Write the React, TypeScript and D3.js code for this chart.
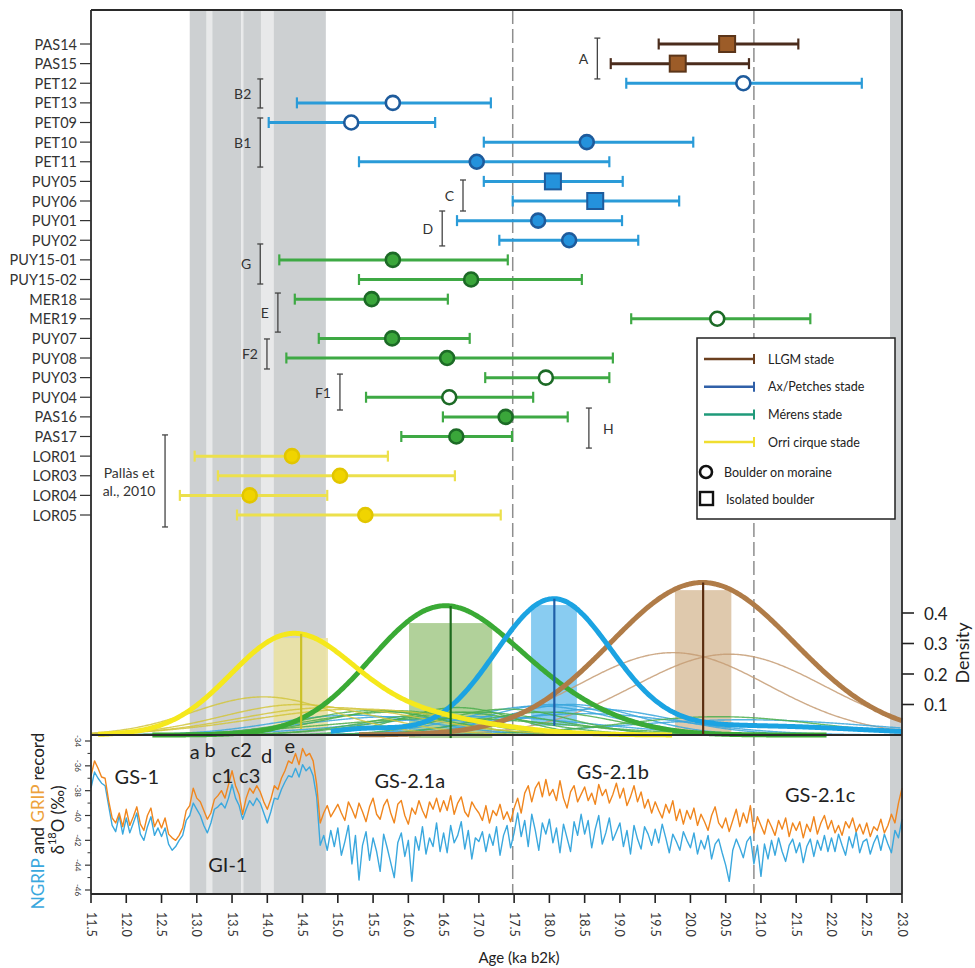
import React from "react";
import * as d3 from "d3";

// ---------------- DATA ----------------
const sampleIds = ["PAS14","PAS15","PET12","PET13","PET09","PET10","PET11","PUY05","PUY06","PUY01","PUY02","PUY15-01","PUY15-02","MER18","MER19","PUY07","PUY08","PUY03","PUY04","PAS16","PAS17","LOR01","LOR03","LOR04","LOR05"];
const sampleAge = [20.52,19.82,20.75,15.78,15.19,18.53,16.97,18.05,18.65,17.84,18.28,15.78,16.89,15.48,20.38,15.77,16.55,17.95,16.58,17.38,16.68,14.35,15.03,13.75,15.39];
const sampleLow = [19.55,18.87,19.09,14.42,14.02,17.07,15.30,17.07,17.48,16.69,17.29,14.17,15.30,14.39,19.16,14.73,14.27,17.09,15.40,16.49,15.90,12.97,13.30,12.76,13.57];
const sampleHigh = [21.53,20.83,22.43,17.17,16.38,20.04,18.85,19.04,19.84,19.03,19.26,17.41,18.46,16.56,21.70,16.87,18.90,18.85,17.77,18.26,17.47,15.71,16.66,14.85,17.31];
const sampleStade = ["LLGM","LLGM","AxP","AxP","AxP","AxP","AxP","AxP","AxP","AxP","AxP","Merens","Merens","Merens","Merens","Merens","Merens","Merens","Merens","Merens","Merens","Orri","Orri","Orri","Orri"];
const sampleShape = ["square","square","circle","circle","circle","circle","circle","square","square","circle","circle","circle","circle","circle","circle","circle","circle","circle","circle","circle","circle","circle","circle","circle","circle"];
const sampleOpen = [false,false,true,true,true,false,false,false,false,false,false,false,false,false,true,false,false,true,true,false,false,false,false,false,false];

// individual probability curves (center, sigma, peak density)
const pdfCenter = [20.55,19.75,20.76,15.8,15.2,18.5,17.0,18.05,18.65,17.85,18.3,15.8,16.9,15.5,20.4,15.8,16.55,17.95,16.6,17.4,16.7,14.45,14.9,13.95,15.3];
const pdfSigma = [1.35,1.35,1.8,1.3,1.1,1.4,1.6,0.95,1.1,1.05,0.95,1.2,1.2,1.0,1.4,1.0,1.7,1.0,1.1,0.9,0.8,1.1,1.3,1.0,1.5];
const pdfPeak = [0.265,0.27,0.05,0.06,0.065,0.07,0.06,0.1,0.085,0.095,0.1,0.075,0.075,0.08,0.06,0.08,0.055,0.075,0.075,0.085,0.09,0.1,0.09,0.125,0.085];

const stades = ["LLGM","AxP","Merens","Orri"];
const stadeLegend = ["LLGM stade","Ax/Petches stade","Mérens stade","Orri cirque stade"];
// summed stade curves as components
const sumCenters = [[20.17],[18.05,20.8,15.4],[16.35,17.7],[14.3,15.8]];
const sumSigmas = [[1.3],[0.82,1.6,0.5],[0.95,1.0],[0.85,1.2]];
const sumPeaks = [[0.5],[0.44,0.03,0.02],[0.37,0.12],[0.30,0.07]];
const sumFrom = [15.3,14.9,12.37,11.6];
const sumTo = [23,23,21.94,19.75];
const meanAge = [20.18,18.07,16.6,14.48];
const rangeLow = [19.78,17.74,16.01,14.09];
const rangeHigh = [20.58,18.39,17.19,14.86];
const rangeTop = [0.475,0.426,0.367,0.318];
const rangeBottom = [0,0.03,-0.01,0.02];

// bracket groups
const bracketLabel = ["A","B2","B1","C","D","G","E","F2","F1","H"];
const bracketAge = [18.68,13.9,13.9,16.775,16.48,13.9,14.15,13.995,15.03,18.56];
const bracketRowFrom = [-0.3,1.78,3.77,6.93,8.51,10.19,12.69,15.03,16.82,18.55];
const bracketRowTo = [1.78,3.26,6.27,8.51,10.29,12.23,14.68,16.56,18.65,20.59];
const refBracketAge = 12.55;
const refBracketRows = [19.92,24.61];

// Greenland event stratigraphy
const bandFrom = [12.9,13.14,13.22,13.63,13.66,13.91,14.09,22.83];
const bandTo = [13.14,13.22,13.63,13.66,13.91,14.09,14.83,23.0];
const bandLight = [false,true,false,true,false,true,false,false];
const boundaries = [17.48,20.9];

const eventLabels = ["GS-1","GI-1","GS-2.1a","GS-2.1b","GS-2.1c","a","b","c2","c1","c3","d","e"];
const eventAge = [12.15,13.44,16.02,18.9,21.84,12.97,13.19,13.63,13.37,13.75,13.99,14.32];
const eventIso = [-37.5,-44.55,-37.8,-37.1,-38.9,-35.45,-35.3,-35.3,-37.4,-37.4,-35.8,-35.0];

// isotope records, 0.05 ka steps from 11.5 to 23.0
const isoStart = 11.5;
const isoStep = 0.05;
const gripD18O = [
-36.8,-35.6,-36.2,-36.9,-37.0,-38.8,-40.2,-40.6,-39.8,-40.9,
-39.5,-40.8,-40.1,-39.3,-40.7,-41.2,-40.0,-39.4,-40.9,-40.3,
-41.0,-40.2,-41.5,-41.8,-42.0,-41.6,-41.0,-39.6,-39.2,-37.8,
-38.6,-38.9,-39.6,-40.3,-39.8,-38.7,-38.4,-38.0,-38.6,-37.5,
-36.4,-37.6,-38.3,-39.9,-38.6,-37.8,-38.2,-37.6,-38.1,-38.9,
-39.5,-38.7,-37.6,-37.9,-37.0,-36.4,-35.6,-35.8,-35.0,-35.9,
-34.6,-35.2,-35.0,-35.6,-37.5,-40.6,-39.8,-39.2,-40.1,-39.6,
-39.1,-39.8,-40.4,-38.9,-39.5,-40.2,-39.0,-39.7,-40.5,-39.3,
-38.6,-39.9,-40.3,-39.2,-38.7,-39.8,-40.6,-39.1,-38.8,-40.0,
-40.7,-39.4,-39.9,-38.8,-39.6,-40.2,-38.9,-39.5,-38.6,-39.7,
-38.8,-39.6,-38.4,-39.9,-39.0,-38.5,-39.7,-40.1,-38.9,-39.4,
-39.8,-40.4,-39.2,-40.6,-39.6,-40.0,-39.1,-40.3,-39.7,-40.5,
-39.4,-38.6,-39.8,-38.2,-37.6,-38.9,-37.8,-37.3,-38.5,-37.1,
-38.4,-37.9,-38.8,-37.2,-38.6,-39.4,-38.1,-37.6,-38.9,-38.3,
-37.7,-38.8,-38.2,-39.1,-37.5,-38.4,-37.9,-39.0,-38.3,-37.4,
-38.6,-37.8,-39.2,-38.5,-37.6,-38.9,-38.1,-39.4,-38.7,-39.8,
-38.9,-39.6,-40.2,-39.1,-39.8,-38.8,-40.4,-39.5,-40.7,-39.6,
-40.3,-39.4,-40.8,-39.9,-40.5,-41.2,-40.0,-39.3,-40.6,-41.0,
-40.2,-41.3,-40.4,-39.5,-40.9,-39.8,-40.6,-39.2,-41.4,-40.1,
-40.8,-41.5,-40.3,-40.9,-41.6,-40.4,-41.1,-40.2,-41.7,-40.6,
-41.2,-40.5,-41.8,-40.7,-41.3,-40.1,-41.5,-40.6,-40.0,-41.1,
-40.4,-41.4,-40.8,-41.6,-40.5,-41.0,-40.2,-41.3,-40.7,-41.5,
-40.6,-41.7,-40.9,-41.2,-40.3,-41.4,-40.8,-39.9,-40.6,-39.0,
-37.8];
const ngripD18O = [
-37.8,-36.5,-37.0,-37.4,-37.6,-39.2,-40.8,-41.3,-40.0,-41.5,
-40.2,-41.4,-40.6,-39.8,-41.5,-42.0,-40.9,-40.1,-41.6,-41.0,
-41.7,-41.0,-42.3,-42.8,-42.5,-42.0,-41.6,-40.4,-40.0,-39.0,
-39.5,-40.0,-40.8,-41.4,-40.6,-39.5,-39.3,-39.0,-39.4,-38.6,
-37.5,-38.6,-39.2,-40.3,-39.5,-38.8,-39.2,-38.6,-39.0,-39.8,
-40.6,-39.7,-38.6,-38.7,-37.9,-37.3,-36.8,-36.9,-36.2,-36.9,
-35.9,-36.4,-36.1,-36.8,-38.5,-42.4,-41.6,-42.8,-41.2,-42.5,
-41.0,-43.2,-42.1,-40.8,-43.9,-41.6,-45.2,-42.4,-41.3,-43.6,
-41.8,-42.9,-44.5,-41.5,-42.6,-43.8,-45.0,-42.2,-41.4,-43.3,
-42.0,-45.3,-41.7,-42.8,-40.9,-43.1,-41.8,-42.5,-40.6,-42.9,
-41.4,-43.0,-40.8,-42.2,-41.6,-40.5,-42.7,-41.2,-43.5,-41.8,
-42.1,-41.3,-42.9,-41.5,-42.4,-40.9,-43.2,-41.6,-40.8,-42.6,
-41.4,-39.8,-41.7,-40.4,-42.5,-39.9,-41.2,-42.8,-40.6,-41.5,
-40.3,-42.2,-41.0,-43.0,-40.7,-41.8,-42.9,-40.5,-41.6,-39.9,
-41.5,-40.4,-42.6,-41.1,-40.0,-42.3,-41.4,-40.2,-42.0,-41.3,
-40.6,-42.5,-41.2,-43.1,-40.8,-41.9,-42.7,-40.9,-41.5,-42.4,
-41.1,-42.2,-40.7,-41.8,-43.0,-41.5,-42.1,-42.8,-41.3,-42.0,
-42.6,-41.4,-43.1,-42.0,-42.7,-41.6,-43.5,-42.3,-41.9,-43.0,
-44.0,-45.3,-42.8,-41.9,-42.6,-43.4,-42.1,-41.7,-43.9,-42.4,
-44.9,-42.3,-43.5,-42.0,-43.2,-41.8,-42.9,-43.7,-42.4,-41.9,
-43.0,-42.2,-43.8,-42.5,-41.9,-43.3,-42.0,-42.8,-41.6,-42.9,
-41.8,-42.9,-41.5,-42.4,-43.2,-41.7,-42.6,-41.3,-43.0,-42.1,
-41.9,-43.1,-42.2,-41.6,-42.8,-41.5,-42.3,-43.0,-41.2,-41.8,
-40.3];

const ageTicks = d3.range(11.5, 23.001, 0.5);
const isoMajor = [-34,-36,-38,-40,-42,-44,-46];
const isoMinor = [-35,-37,-39,-41,-43,-45];
const densTicks = [0.1,0.2,0.3,0.4];

// ---------------- STYLE ----------------
const lineCol: Record<string,string> = { LLGM: "#4b2c1c", AxP: "#2a9bd8", Merens: "#3ea944", Orri: "#ece04c" };
const fillCol: Record<string,string> = { LLGM: "#9c5c28", AxP: "#2492dc", Merens: "#3aa63a", Orri: "#f0d400" };
const strokeCol: Record<string,string> = { LLGM: "#5b3519", AxP: "#1e5b9c", Merens: "#1c6a26", Orri: "#e2c600" };
const thinCol: Record<string,string> = { LLGM: "#c69c74", AxP: "#3aa6dc", Merens: "#4cae4c", Orri: "#d2c53c" };
const thickCol: Record<string,string> = { LLGM: "#b07c48", AxP: "#1ba3e2", Merens: "#3aaa35", Orri: "#f5e81c" };
const rectCol: Record<string,string> = { LLGM: "#dcc3a4", AxP: "#7cc6ef", Merens: "#a9cc8f", Orri: "#ebe2a4" };
const meanCol: Record<string,string> = { LLGM: "#5a2d10", AxP: "#1f5fa8", Merens: "#1e6b1e", Orri: "#cbc128" };
const legendLineCol = ["#6b3f1f","#3060a8","#1f9a7a","#f0de30"];
const FONT = "Lato, 'Open Sans', sans-serif";

const gauss = (t: number, c: number, s: number, h: number) => h * Math.exp(-((t - c) ** 2) / (2 * s * s));

export default function App() {
  const x = d3.scaleLinear().domain([11.5, 23]).range([91, 902]);
  const yCat = d3.scalePoint<string>().domain(sampleIds).range([44, 515]);
  const yRow = d3.scaleLinear().domain([0, sampleIds.length - 1]).range([44, 515]);
  const yDen = d3.scaleLinear().domain([0, 0.4]).range([735, 613]);
  const yIso = d3.scaleLinear().domain([-34, -46]).range([741, 890]);

  const left = 91, right = 902, top = 10, mid = 735, bottom = 894;

  const denLine = (f: (t: number) => number) =>
    d3.line<number>().x((t) => x(t)).y((t) => yDen(f(t))).curve(d3.curveMonotoneX);

  const sumF = (k: number) => (t: number) =>
    sumCenters[k].reduce((a, c, j) => a + gauss(t, c, sumSigmas[k][j], sumPeaks[k][j]), 0);

  const isoLine = d3.line<number>()
    .x((_, i) => x(isoStart + i * isoStep))
    .y((v) => yIso(v));

  const drawOrder = [2, 0, 1, 3]; // Merens, LLGM, AxP, Orri

  return (
    <svg width={975} height={968} style={{ position: "absolute", left: 0, top: 0, background: "#fff" }} fontFamily={FONT}>
      <rect x={0} y={0} width={975} height={968} fill="#fff" />
      {/* event bands */}
      {bandFrom.map((b, i) => (
        <rect key={"band" + i} x={x(b)} y={top} width={x(bandTo[i]) - x(b)} height={bottom - top}
          fill={bandLight[i] ? "#e8e9ea" : "#cdd0d2"} />
      ))}
      {/* boundaries */}
      {boundaries.map((b, i) => (
        <line key={"bd" + i} x1={x(b)} x2={x(b)} y1={top} y2={bottom} stroke="#8e8e8e" strokeWidth={1.5} strokeDasharray="14 5" />
      ))}

      {/* density ranges */}
      {stades.map((s, k) => (
        <rect key={"rg" + k} x={x(rangeLow[k])} width={x(rangeHigh[k]) - x(rangeLow[k])}
          y={yDen(rangeTop[k])} height={yDen(rangeBottom[k]) - yDen(rangeTop[k])} fill={rectCol[s]} opacity={0.9} />
      ))}
      {/* thin curves */}
      {sampleIds.map((id, i) => {
        const c = pdfCenter[i], s = pdfSigma[i];
        const ts = d3.range(Math.max(11.5, c - 3.3 * s), Math.min(23, c + 3.3 * s), 0.02);
        return (
          <path key={"thin" + id} d={denLine((t) => gauss(t, c, s, pdfPeak[i]))(ts) || ""} fill="none"
            stroke={thinCol[sampleStade[i]]} strokeWidth={1.4} opacity={0.85} />
        );
      })}
      {/* summed curves */}
      {drawOrder.map((k) => {
        const ts = d3.range(sumFrom[k], sumTo[k] + 1e-9, 0.02);
        return (
          <path key={"sum" + k} d={denLine(sumF(k))(ts) || ""} fill="none" stroke={thickCol[stades[k]]}
            strokeWidth={5} strokeLinecap="butt" />
        );
      })}
      {/* mean lines */}
      {stades.map((s, k) => (
        <line key={"mean" + k} x1={x(meanAge[k])} x2={x(meanAge[k])} y1={yDen(sumF(k)(meanAge[k]))} y2={yDen(rangeBottom[k])}
          stroke={meanCol[s]} strokeWidth={2.2} />
      ))}

      {/* isotope records */}
      <path d={isoLine(ngripD18O) || ""} fill="none" stroke="#3aa8de" strokeWidth={1.4} strokeLinejoin="round" />
      <path d={isoLine(gripD18O) || ""} fill="none" stroke="#f0861e" strokeWidth={1.4} strokeLinejoin="round" />

      {/* event labels */}
      {eventLabels.map((l, i) => (
        <text key={"ev" + i} x={x(eventAge[i])} y={yIso(eventIso[i])} textAnchor="middle" fontSize={20} fill="#222">{l}</text>
      ))}

      {/* brackets */}
      {bracketLabel.map((l, i) => {
        const bx = x(bracketAge[i]);
        const y1 = yRow(bracketRowFrom[i]), y2 = yRow(bracketRowTo[i]);
        const rightSide = l === "H";
        return (
          <g key={"br" + l} stroke="#444" strokeWidth={1.3}>
            <line x1={bx} x2={bx} y1={y1} y2={y2} />
            <line x1={bx - 3} x2={bx + 3} y1={y1} y2={y1} />
            <line x1={bx - 3} x2={bx + 3} y1={y2} y2={y2} />
            <text x={rightSide ? bx + 14 : bx - 9} y={(y1 + y2) / 2} dominantBaseline="central"
              textAnchor={rightSide ? "start" : "end"} fontSize={14} fill="#333" stroke="none">{l}</text>
          </g>
        );
      })}
      {(() => {
        const bx = x(refBracketAge);
        const y1 = yRow(refBracketRows[0]), y2 = yRow(refBracketRows[1]);
        return (
          <g stroke="#444" strokeWidth={1.3}>
            <line x1={bx} x2={bx} y1={y1} y2={y2} />
            <line x1={bx - 3} x2={bx + 3} y1={y1} y2={y1} />
            <line x1={bx - 3} x2={bx + 3} y1={y2} y2={y2} />
            <text x={bx - 36} y={(y1 + y2) / 2 - 8} textAnchor="middle" dominantBaseline="central" fontSize={14} fill="#333" stroke="none">Pallàs et</text>
            <text x={bx - 36} y={(y1 + y2) / 2 + 10} textAnchor="middle" dominantBaseline="central" fontSize={14} fill="#333" stroke="none">al., 2010</text>
          </g>
        );
      })()}

      {/* error bars and symbols */}
      {sampleIds.map((id, i) => {
        const st = sampleStade[i];
        const cy = yCat(id) as number;
        const x1 = x(sampleLow[i]), x2 = x(sampleHigh[i]), cx = x(sampleAge[i]);
        const open = sampleOpen[i];
        return (
          <g key={"s" + id}>
            <line x1={x1} x2={x2} y1={cy} y2={cy} stroke={lineCol[st]} strokeWidth={3} />
            <line x1={x1} x2={x1} y1={cy - 5.5} y2={cy + 5.5} stroke={lineCol[st]} strokeWidth={2.2} />
            <line x1={x2} x2={x2} y1={cy - 5.5} y2={cy + 5.5} stroke={lineCol[st]} strokeWidth={2.2} />
            {sampleShape[i] === "square" ? (
              <rect x={cx - 8} y={cy - 8} width={16} height={16} fill={fillCol[st]} stroke={strokeCol[st]} strokeWidth={2} />
            ) : (
              <circle cx={cx} cy={cy} r={7} fill={open ? "#fff" : fillCol[st]} stroke={strokeCol[st]} strokeWidth={2.6} />
            )}
          </g>
        );
      })}

      {/* legend */}
      <g>
        <rect x={697} y={338} width={198} height={181} fill="#fff" stroke="#222" strokeWidth={1.5} />
        {stadeLegend.map((l, i) => {
          const ly = 359 + i * 27.7;
          return (
            <g key={"lg" + i}>
              <line x1={704} x2={754} y1={ly} y2={ly} stroke={legendLineCol[i]} strokeWidth={2.5} />
              <line x1={754} x2={754} y1={ly - 5} y2={ly + 5} stroke={legendLineCol[i]} strokeWidth={2} />
              <text x={768} y={ly} dominantBaseline="central" fontSize={12.5} fill="#222">{l}</text>
            </g>
          );
        })}
        <circle cx={706} cy={472} r={6} fill="#fff" stroke="#111" strokeWidth={2.6} />
        <text x={724} y={472} dominantBaseline="central" fontSize={12.5} fill="#222">Boulder on moraine</text>
        <rect x={700} y={492} width={13} height={13} fill="#fff" stroke="#111" strokeWidth={2.4} />
        <text x={726} y={499} dominantBaseline="central" fontSize={12.5} fill="#222">Isolated boulder</text>
      </g>

      {/* frame */}
      <g stroke="#2a2a2a" strokeWidth={1.8} fill="none">
        <line x1={left} x2={right} y1={top} y2={top} />
        <line x1={left} x2={left} y1={top} y2={bottom} />
        <line x1={right} x2={right} y1={top} y2={bottom} />
        <line x1={left} x2={right} y1={mid} y2={mid} />
        <line x1={left} x2={right} y1={bottom} y2={bottom} />
      </g>

      {/* category axis */}
      {sampleIds.map((id) => (
        <g key={"cat" + id}>
          <line x1={80} x2={left} y1={yCat(id)} y2={yCat(id)} stroke="#333" strokeWidth={1.2} />
          <text x={77} y={yCat(id)} textAnchor="end" dominantBaseline="central" fontSize={14.5} fill="#333">{id}</text>
        </g>
      ))}

      {/* density axis */}
      {densTicks.map((d) => (
        <g key={"dt" + d}>
          <line x1={right} x2={914} y1={yDen(d)} y2={yDen(d)} stroke="#222" strokeWidth={1.6} />
          <text x={924} y={yDen(d)} dominantBaseline="central" fontSize={17} fill="#222">{d3.format(".1f")(d)}</text>
        </g>
      ))}
      <text transform={`translate(962,653) rotate(-90)`} textAnchor="middle" dominantBaseline="central" fontSize={18} fill="#222">Density</text>

      {/* isotope axis */}
      {isoMajor.map((v) => (
        <g key={"im" + v}>
          <line x1={85} x2={left} y1={yIso(v)} y2={yIso(v)} stroke="#333" strokeWidth={1.2} />
          <text transform={`translate(78,${yIso(v)}) rotate(90)`} textAnchor="middle" dominantBaseline="central" fontSize={8} fill="#333">{v}</text>
        </g>
      ))}
      {isoMinor.map((v) => (
        <line key={"in" + v} x1={87.5} x2={left} y1={yIso(v)} y2={yIso(v)} stroke="#333" strokeWidth={1} />
      ))}
      <text transform="translate(37,821) rotate(-90)" textAnchor="middle" dominantBaseline="central" fontSize={17} fill="#222">
        <tspan fill="#3aa8de">NGRIP</tspan>{" and "}<tspan fill="#eda23c">GRIP</tspan>{" record"}
      </text>
      <text transform="translate(57,820) rotate(-90)" textAnchor="middle" dominantBaseline="central" fontSize={17} fill="#222">
        {"δ"}<tspan dy={-6} fontSize={11}>18</tspan><tspan dy={6}>{"O (‰)"}</tspan>
      </text>

      {/* age axis */}
      {ageTicks.map((t) => (
        <g key={"at" + t}>
          <line x1={x(t)} x2={x(t)} y1={bottom} y2={903} stroke="#222" strokeWidth={1.6} />
          <text transform={`translate(${x(t)},912) rotate(90)`} textAnchor="start" dominantBaseline="central" fontSize={12.5} fill="#333">{d3.format(".1f")(t)}</text>
        </g>
      ))}
      <text x={519} y={963} textAnchor="middle" fontSize={15} fill="#222">Age (ka b2k)</text>
    </svg>
  );
}
